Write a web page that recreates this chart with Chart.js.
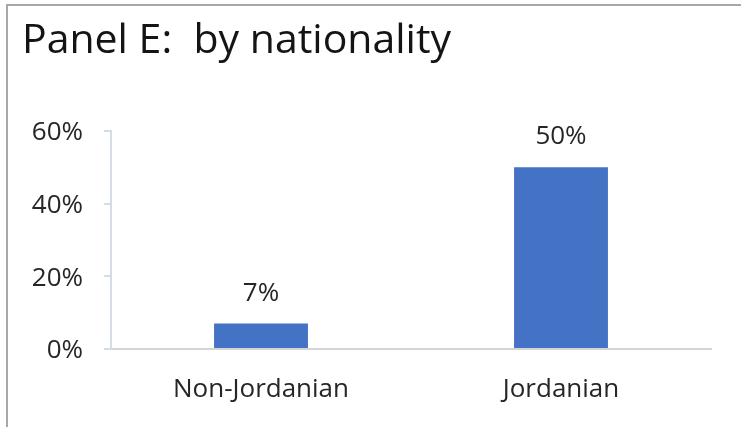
<!DOCTYPE html>
<html lang="en">
    <head>
        <title>Panel E: by nationality</title>
        <meta charset="UTF-8">
        <style>
            body { margin: 0; background: #ffffff; }
            .frame {
                position: absolute; left: 6px; top: 4px; right: 0; bottom: 0;
                border-left: 2px solid #a8a8a8; border-top: 2px solid #a8a8a8;
            }
            #natChart { position: absolute; left: 0; top: 0; }
        </style>
    </head>
    <body>
        <div class="frame"></div>
        <canvas id="natChart" width="741" height="427"></canvas>

        <script src="https://cdn.jsdelivr.net/npm/chart.js@4"></script>
        <script>
            let groups = ["Non-Jordanian", "Jordanian"];
            let shares = [7, 50];
            let yTicks = [0, 20, 40, 60];

            const textFont = "Open Sans";
            const textColor = "#262626";

            // writes the value above each bar
            const valueLabels = {
                id: "valueLabels",
                afterDatasetsDraw(chart) {
                    const ctx = chart.ctx;
                    const meta = chart.getDatasetMeta(0);
                    ctx.save();
                    ctx.font = "26px '" + textFont + "'";
                    ctx.fillStyle = textColor;
                    ctx.textAlign = "center";
                    ctx.textBaseline = "alphabetic";
                    meta.data.forEach(function (bar, i) {
                        ctx.fillText(shares[i] + "%", bar.x, bar.y - 23);
                    });
                    ctx.restore();
                }
            };

            new Chart("natChart", {
                type: "bar",
                data: {
                    labels: groups,
                    datasets: [{
                        data: shares,
                        backgroundColor: "#4472c4",
                        barPercentage: 0.313,
                        categoryPercentage: 1
                    }]
                },
                options: {
                    responsive: false,
                    animation: false,
                    devicePixelRatio: 1,
                    layout: { padding: { left: 22, right: 30, top: 0, bottom: 0 } },
                    plugins: {
                        legend: { display: false },
                        tooltip: { enabled: false },
                        title: {
                            display: true,
                            text: "Panel E:  by nationality",
                            align: "start",
                            color: "#141414",
                            font: { family: textFont, size: 41, weight: "normal", lineHeight: 1 },
                            padding: { top: 21, bottom: 69 }
                        }
                    },
                    scales: {
                        x: {
                            afterFit: function (scale) { scale.height = 78; },
                            grid: { display: false, drawTicks: false },
                            border: { display: true, color: "#d4d4d4", width: 2 },
                            ticks: {
                                color: textColor,
                                padding: 25,
                                font: { family: textFont, size: 26 }
                            }
                        },
                        y: {
                            min: 0,
                            max: 60,
                            afterFit: function (scale) { scale.width = 89; },
                            afterBuildTicks: function (scale) {
                                scale.ticks = yTicks.map(function (v) { return { value: v }; });
                            },
                            grid: {
                                drawOnChartArea: false,
                                drawTicks: true,
                                tickLength: 7,
                                color: "#d6dce5",
                                lineWidth: 2
                            },
                            border: { display: true, color: "#d6dce5", width: 2 },
                            ticks: {
                                color: textColor,
                                padding: 21,
                                labelOffset: 2,
                                font: { family: textFont, size: 26 },
                                callback: function (v) { return v + "%"; }
                            }
                        }
                    }
                },
                plugins: [valueLabels]
            });
        </script>
    </body>
</html>
